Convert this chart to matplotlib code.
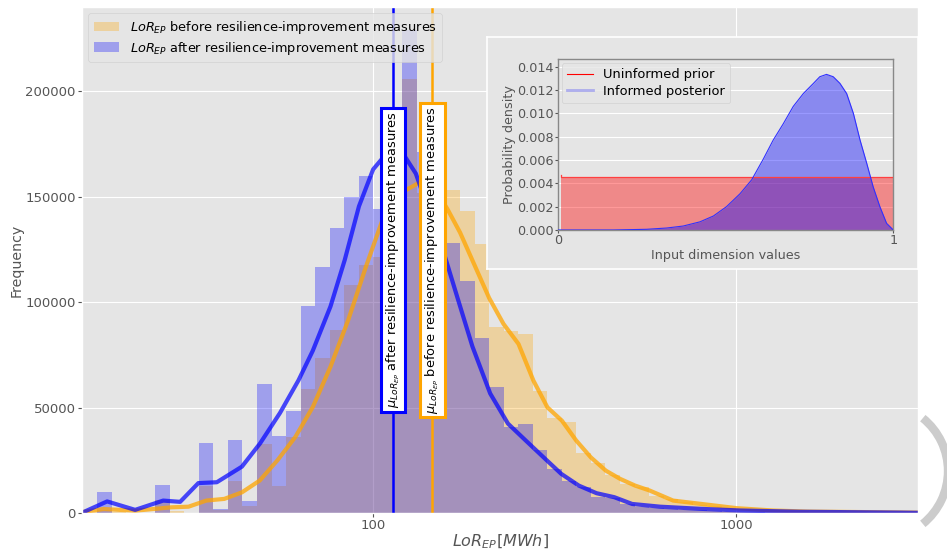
import numpy as np
import matplotlib
matplotlib.use("Agg")
import matplotlib.pyplot as plt
from matplotlib.patches import Arc
from matplotlib.lines import Line2D
from matplotlib.transforms import IdentityTransform
from matplotlib.ticker import NullLocator

plt.style.use("ggplot")

# histogram bins: log10 edges, 0.04 decade wide, starting at 10**1.2
bin_lo = 1.2
bin_w = 0.04

# counts per bin (k = 0..57, in thousands)
before_counts = [0.3, 1.5, 0.5, 0, 0, 6.0, 1.0, 0, 12.7, 1.2,
                 15.0, 3.2, 32.9, 13.0, 36.0, 59.0, 73.7, 86.8, 108.0, 117.5,
                 121.6, 140, 206, 152, 158, 153, 143.4, 127.6, 88.0, 86.5,
                 85.0, 57.7, 45.0, 43.4, 28.5, 23.6, 17.8, 13.8, 12.2, 8.3,
                 6.5, 5.0, 4.0, 3.2, 2.5, 2.0, 1.6, 1.3, 1.0, 0.8,
                 0.6, 0.5, 0.4, 0.3, 0.2, 0.2, 0.1, 0.1]
after_counts = [0, 9.8, 0, 0, 0, 13.5, 0, 0, 33.0, 1.8,
                34.8, 5.9, 61.1, 36.5, 48.4, 98.0, 116.7, 135.0, 149.7, 159.7,
                144.4, 168, 229, 171, 138, 128, 110.2, 83.0, 59.6, 40.7,
                42.0, 30.0, 21.0, 15.4, 12.2, 7.8, 7.2, 4.4, 2.8, 2.5,
                2.0, 1.5, 1.2, 0.8, 0.6, 0.4, 0.3, 0.2, 0.1, 0.1,
                0.05, 0, 0, 0, 0, 0, 0, 0]

# kde curves (x in MWh, y in thousands)
kde_after_x = [16.0, 18.5, 22.1, 26.4, 29.4, 33.0, 37.1, 43.5, 48.8, 55.4,
               62.3, 68.2, 76.3, 83.5, 91.4, 100, 107, 113.7, 122.4, 131.1,
               143.3, 156.8, 171.5, 187.7, 210.1, 235.2, 263.2, 294.4, 329.6, 368.7,
               412.5, 461.8, 516.9, 617.6, 795.9, 1025.6, 1500, 2830, 3170]
kde_after_y = [0.6, 5.5, 1.5, 5.9, 5.3, 14.2, 14.6, 22, 33, 47.5,
               63, 77, 98, 120, 145.5, 163, 169, 170.6, 169, 161,
               142, 123, 101, 79, 56.7, 42.4, 34.4, 26.5, 18.6, 13,
               9.4, 7.5, 4.3, 3.0, 2.0, 1.2, 0.6, 0.2, 0.1]
kde_before_x = [16.0, 18.1, 22.1, 27.8, 31.0, 34.7, 38.9, 43.5, 48.7, 54.5,
                61.0, 68.2, 76.3, 85.4, 95.6, 107, 119.7, 134, 146.6, 160.4,
                173.6, 208.7, 228.6, 251.4, 276.4, 302.1, 331.1, 362.5, 397.8, 437.5,
                479, 527, 577, 670.6, 830.4, 1004, 1264, 1566, 2384, 3153]
kde_before_y = [0.6, 1.9, 1.1, 2.7, 3.0, 5.9, 6.7, 9.8, 15.4, 25,
                36, 50.3, 69.4, 91.6, 117, 140.8, 152, 156.7, 155, 144,
                133, 102, 89.7, 80.2, 62.8, 50.1, 43.8, 34.4, 26.4, 20.1,
                16.2, 13, 10.7, 5.9, 4.0, 2.3, 1.2, 0.7, 0.4, 0.2]

mean_after = 113.7
mean_before = 145.7

# inset: prior / posterior densities
prior_x = [0.01, 0.1, 0.2, 0.3, 0.4, 0.5, 0.6, 0.7, 0.8, 0.9, 1.0]
prior_y = [0.0047, 0.00455, 0.00452, 0.00456, 0.00454, 0.00455, 0.00453,
           0.00456, 0.00455, 0.00454, 0.00455]
post_x = [0.0, 0.166, 0.265, 0.325, 0.374, 0.424, 0.464, 0.503, 0.543, 0.578,
          0.613, 0.642, 0.672, 0.702, 0.732, 0.762, 0.781, 0.801, 0.821, 0.841,
          0.861, 0.881, 0.901, 0.921, 0.940, 0.960, 0.980, 1.0]
post_y = [0.0, 0.0, 0.00006, 0.00017, 0.00034, 0.0007, 0.0012, 0.002, 0.0031, 0.0043,
          0.0061, 0.0077, 0.0091, 0.0106, 0.0117, 0.01257, 0.01314, 0.01334, 0.01314, 0.01257,
          0.0117, 0.0100, 0.0077, 0.0057, 0.0037, 0.002, 0.00057, 0.0]

edges = 10 ** (bin_lo + bin_w * np.arange(len(before_counts) + 1))
centers = np.sqrt(edges[:-1] * edges[1:])

fig = plt.figure(figsize=(9.47, 5.53), dpi=100)
ax = fig.add_axes([0.0866, 0.0723, 0.8828, 0.915])

ax.hist(centers, bins=edges, weights=np.array(before_counts) * 1000, color="orange",
        alpha=0.3, label=r"$LoR_{EP}$ before resilience-improvement measures")
ax.hist(centers, bins=edges, weights=np.array(after_counts) * 1000, color="blue",
        alpha=0.3, label=r"$LoR_{EP}$ after resilience-improvement measures")
ax.plot(kde_before_x, np.array(kde_before_y) * 1000, color="orange", lw=3, alpha=0.75)
ax.plot(kde_after_x, np.array(kde_after_y) * 1000, color="blue", lw=3, alpha=0.7)

ax.axvline(mean_after, color="blue", lw=1.8)
ax.axvline(mean_before, color="orange", lw=1.8)
ax.text(mean_after, 120000, r"$\mu_{LoR_{EP}}$ after resilience-improvement measures",
        rotation=90, ha="center", va="center", fontsize=9.4, zorder=10,
        bbox=dict(boxstyle="square,pad=0.25", facecolor="white", edgecolor="blue", linewidth=2.2))
ax.text(mean_before, 120000, r"$\mu_{LoR_{EP}}$ before resilience-improvement measures",
        rotation=90, ha="center", va="center", fontsize=9.4, zorder=10,
        bbox=dict(boxstyle="square,pad=0.25", facecolor="white", edgecolor="orange", linewidth=2.2))

ax.set_xscale("log")
ax.set_xlim(10 ** 1.198, 10 ** 3.501)
ax.set_ylim(0, 240000)
ax.set_xticks([100, 1000])
ax.set_xticklabels(["100", "1000"])
ax.xaxis.set_minor_locator(NullLocator())
ax.set_yticks([0, 50000, 100000, 150000, 200000])
ax.set_yticklabels(["0", "50000", "100000", "150000", "200000"])
ax.tick_params(labelsize=9.5, length=3, pad=1.5)
ax.set_xlabel(r"$LoR_{EP}[MWh]$", fontsize=11.5, labelpad=0)
ax.set_ylabel("Frequency", fontsize=10.2, labelpad=1)
ax.legend(loc="upper left", fontsize=9.3, borderaxespad=0.5, labelspacing=0.3)

# inset panel
bg = fig.add_axes([0.5139, 0.513, 0.4552, 0.4195])
bg.set_facecolor("#e5e5e5")
bg.set_xticks([])
bg.set_yticks([])
bg.grid(False)
for s in bg.spines.values():
    s.set_visible(True)
    s.set_color("white")
    s.set_linewidth(1.2)

ins = fig.add_axes([0.5889, 0.5841, 0.3544, 0.3092])
ins.set_facecolor("#e5e5e5")
ins.fill_between(prior_x, prior_y, step="pre", color="red", alpha=0.4, lw=0)
ins.step(prior_x, prior_y, where="pre", color="#ff4040", lw=0.9, zorder=3)
ins.fill_between(post_x, post_y, color="blue", alpha=0.4, lw=0)
ins.plot(post_x, post_y, color="#3030ff", lw=0.8, zorder=3)
ins.set_xlim(0, 1)
ins.set_ylim(0, 0.01466)
ins.set_xticks([0, 1])
ins.set_xticklabels(["0", "1"])
ins.set_yticks(np.arange(0, 0.0141, 0.002))
ins.set_yticklabels(["0.000", "0.002", "0.004", "0.006", "0.008", "0.010", "0.012", "0.014"])
ins.tick_params(labelsize=9.2, length=2, pad=1)
ins.set_xlabel("Input dimension values", fontsize=9.2, labelpad=1)
ins.set_ylabel("Probability density", fontsize=9.2, labelpad=1)
for s in ins.spines.values():
    s.set_visible(True)
    s.set_color("#888888")
    s.set_linewidth(1)
handles = [Line2D([], [], color="red", lw=0.8),
           Line2D([], [], color="blue", lw=2, alpha=0.25)]
ins.legend(handles, ["Uninformed prior", "Informed posterior"], loc="upper left",
           fontsize=9.4, borderaxespad=0.3, labelspacing=0.3)

# grey arc at the right edge
arc = Arc((880, 553 - 471), 136, 136, theta1=-51, theta2=51, color="#cccccc",
          lw=6, transform=IdentityTransform(), zorder=-1)
fig.add_artist(arc)

fig.savefig("out.png", dpi=100)
